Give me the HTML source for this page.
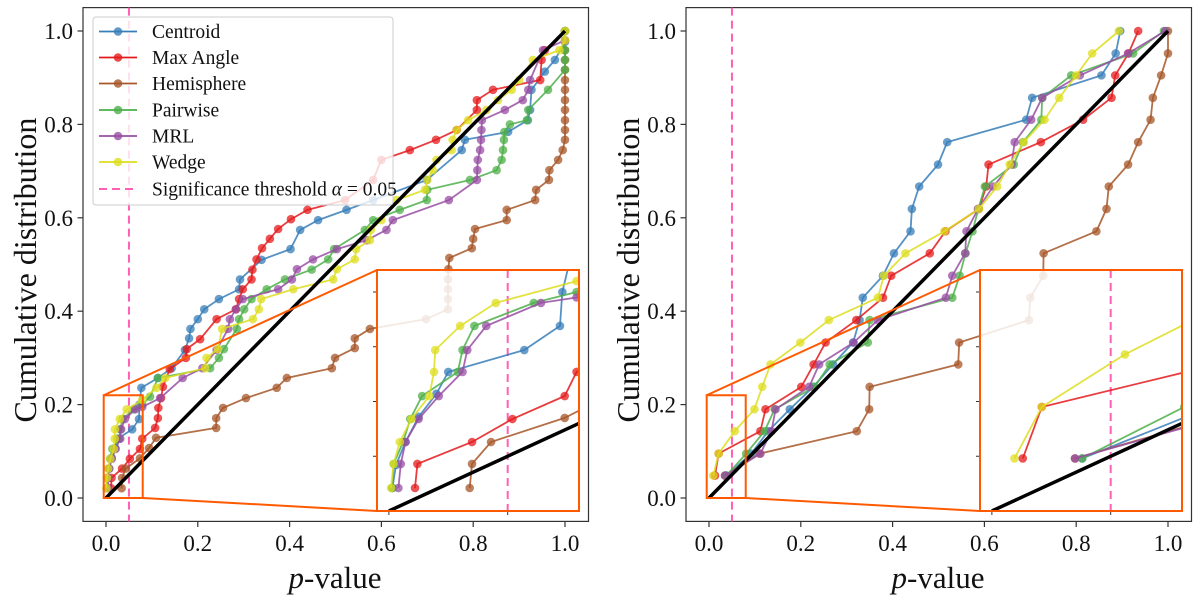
<!DOCTYPE html>
<html><head><meta charset="utf-8"><style>
body{margin:0;background:#fff;}
svg{display:block;}
svg text{font-family:"Liberation Serif","Times New Roman",serif;}
</style></head><body>
<svg id="chart" width="1200" height="596" viewBox="0 0 1200 596" xmlns="http://www.w3.org/2000/svg" font-family="Liberation Serif, serif"></svg>
<script>
// ---------- data ----------
const seriesNames = ["Centroid","Max Angle","Hemisphere","Pairwise","MRL","Wedge"];
const seriesColors = ["#377eb8","#e41a1c","#a65628","#4daf4a","#984ea3","#dddd1e"];
const xTicks = [0.0,0.2,0.4,0.6,0.8,1.0];
const yTicks = [0.0,0.2,0.4,0.6,0.8,1.0];
const xTickLabels = ["0.0","0.2","0.4","0.6","0.8","1.0"];
const yTickLabels = ["0.0","0.2","0.4","0.6","0.8","1.0"];
const alphaThreshold = 0.05;

// Left panel
const leftCentroidX = [0.0015,0.003,0.007,0.0125,0.02,0.025,0.057,0.072,0.073,0.077,0.113,0.143,0.172,0.181,0.184,0.2,0.214,0.246,0.29,0.292,0.339,0.402,0.423,0.462,0.524,0.582,0.699,0.775,0.782,0.876,0.919,0.924,0.927,0.956,0.978,1.0,1.0];
const leftCentroidY = [0.021,0.042,0.063,0.086,0.107,0.127,0.147,0.169,0.2,0.236,0.257,0.278,0.317,0.342,0.362,0.383,0.404,0.426,0.447,0.468,0.51,0.533,0.574,0.595,0.617,0.638,0.681,0.745,0.767,0.784,0.809,0.831,0.874,0.913,0.938,0.977,1.0];
const leftMaxAngleX = [0.011,0.012,0.035,0.052,0.074,0.079,0.107,0.113,0.114,0.12,0.124,0.139,0.174,0.176,0.205,0.241,0.283,0.29,0.298,0.317,0.319,0.328,0.34,0.357,0.375,0.403,0.439,0.521,0.582,0.6,0.662,0.719,0.764,0.808,0.808,0.843,0.946,0.949,0.956,1.0];
const leftMaxAngleY = [0.021,0.043,0.063,0.084,0.105,0.127,0.15,0.171,0.193,0.214,0.238,0.276,0.3,0.319,0.34,0.383,0.404,0.426,0.447,0.468,0.489,0.511,0.535,0.555,0.576,0.597,0.617,0.638,0.681,0.724,0.745,0.767,0.788,0.831,0.852,0.874,0.895,0.938,0.959,1.0];
const leftHemisphereX = [0.034,0.035,0.043,0.074,0.094,0.109,0.24,0.24,0.255,0.305,0.372,0.394,0.492,0.499,0.542,0.542,0.575,0.697,0.745,0.745,0.745,0.745,0.746,0.748,0.797,0.8,0.804,0.873,0.873,0.935,0.937,0.965,0.966,0.985,0.995,1.0,1.0,1.0,1.0,1.0,1.0,1.0,1.0,1.0,1.0,1.0,1.0];
const leftHemisphereY = [0.021,0.043,0.063,0.085,0.107,0.129,0.15,0.171,0.193,0.214,0.236,0.257,0.278,0.3,0.321,0.342,0.362,0.383,0.404,0.426,0.447,0.468,0.49,0.514,0.535,0.555,0.576,0.595,0.617,0.638,0.66,0.681,0.702,0.724,0.745,0.767,0.788,0.809,0.831,0.852,0.874,0.895,0.917,0.938,0.959,0.98,1.0];
const leftPairwiseX = [0.0015,0.002,0.006,0.009,0.014,0.029,0.031,0.036,0.061,0.079,0.096,0.113,0.227,0.246,0.257,0.285,0.29,0.301,0.317,0.35,0.39,0.448,0.484,0.497,0.564,0.582,0.64,0.699,0.7,0.793,0.851,0.862,0.865,0.867,0.868,0.88,0.917,0.92,0.963,1.0,1.0,1.0,1.0];
const leftPairwiseY = [0.021,0.043,0.063,0.084,0.105,0.127,0.147,0.169,0.19,0.2,0.217,0.257,0.278,0.3,0.319,0.362,0.383,0.404,0.426,0.447,0.468,0.489,0.511,0.533,0.574,0.595,0.617,0.638,0.66,0.681,0.702,0.724,0.745,0.767,0.784,0.8,0.809,0.831,0.874,0.917,0.938,0.959,1.0];
const leftMRLX = [0.004,0.005,0.007,0.0125,0.021,0.031,0.033,0.041,0.064,0.079,0.118,0.167,0.21,0.241,0.266,0.27,0.283,0.298,0.375,0.405,0.416,0.451,0.503,0.568,0.611,0.625,0.747,0.808,0.809,0.81,0.815,0.817,0.818,0.819,0.869,0.908,0.92,0.924,0.952,1.0];
const leftMRLY = [0.021,0.043,0.063,0.084,0.105,0.127,0.147,0.169,0.19,0.195,0.214,0.257,0.278,0.317,0.362,0.383,0.404,0.426,0.447,0.468,0.49,0.511,0.533,0.552,0.574,0.595,0.638,0.681,0.702,0.724,0.745,0.767,0.788,0.809,0.831,0.852,0.874,0.895,0.959,0.98];
const leftWedgeX = [0.0009,0.002,0.0046,0.0095,0.017,0.019,0.0195,0.03,0.045,0.079,0.11,0.129,0.216,0.219,0.244,0.253,0.32,0.333,0.338,0.408,0.495,0.503,0.542,0.545,0.575,0.577,0.6,0.633,0.695,0.7,0.712,0.72,0.753,0.755,0.764,0.789,0.829,0.854,0.884,0.9,0.93,0.988,1.0,1.0];
const leftWedgeY = [0.021,0.043,0.063,0.084,0.105,0.127,0.147,0.169,0.19,0.21,0.236,0.257,0.278,0.3,0.319,0.362,0.383,0.404,0.426,0.447,0.468,0.49,0.511,0.533,0.552,0.574,0.595,0.638,0.66,0.681,0.702,0.724,0.745,0.767,0.788,0.809,0.831,0.852,0.874,0.895,0.938,0.959,0.98,1.0];

// Right panel
const rightY = [0.048,0.095,0.143,0.190,0.238,0.286,0.333,0.381,0.429,0.476,0.524,0.571,0.619,0.667,0.714,0.762,0.810,0.857,0.905,0.952,1.0];
const rightCentroidX = [0.038,0.092,0.129,0.176,0.227,0.27,0.314,0.328,0.335,0.379,0.403,0.439,0.442,0.458,0.499,0.519,0.691,0.704,0.855,0.886,0.896];
const rightMaxAngleX = [0.013,0.021,0.112,0.123,0.201,0.228,0.254,0.321,0.379,0.397,0.481,0.515,0.588,0.604,0.609,0.723,0.815,0.877,0.885,0.914,0.935];
const rightHemisphereX = [0.035,0.11,0.322,0.349,0.35,0.543,0.545,0.697,0.7,0.728,0.729,0.844,0.866,0.871,0.913,0.935,0.962,0.967,0.985,1.0,1.0];
const rightPairwiseX = [0.038,0.081,0.121,0.143,0.23,0.263,0.346,0.35,0.53,0.546,0.559,0.574,0.587,0.601,0.664,0.684,0.724,0.726,0.789,0.924,0.991];
const rightMRLX = [0.035,0.112,0.136,0.145,0.218,0.24,0.315,0.368,0.516,0.53,0.558,0.561,0.586,0.619,0.659,0.666,0.702,0.726,0.808,0.913,0.994];
const rightWedgeX = [0.0095,0.021,0.056,0.099,0.116,0.134,0.199,0.261,0.368,0.381,0.428,0.513,0.588,0.628,0.655,0.686,0.731,0.763,0.8,0.835,0.893];

const leftSeries = [[leftCentroidX,leftCentroidY],[leftMaxAngleX,leftMaxAngleY],[leftHemisphereX,leftHemisphereY],[leftPairwiseX,leftPairwiseY],[leftMRLX,leftMRLY],[leftWedgeX,leftWedgeY]];
const rightSeries = [[rightCentroidX,rightY],[rightMaxAngleX,rightY],[rightHemisphereX,rightY],[rightPairwiseX,rightY],[rightMRLX,rightY],[rightWedgeX,rightY]];

// ---------- drawing ----------
const NS = "http://www.w3.org/2000/svg";
const svg = document.getElementById("chart");
const FONT = "Liberation Serif, serif";
function mk(tag, attrs, parent){
  const e = document.createElementNS(NS, tag);
  for (const k in attrs) e.setAttribute(k, attrs[k]);
  if (tag === "text") e.setAttribute("font-family", FONT);
  (parent||svg).appendChild(e);
  return e;
}
const Y0 = 498, SY = 467, SX = 459;
const INS_Y0 = 511, INS_SY = 1095, INS_SX = 2376, INS_XMIN = -0.005, INS_YMAX = 0.22;
const MR = 4.3;

function drawPanel(ox, frameX, series, key){
  const xs = v => ox + v*SX;
  const ys = v => Y0 - v*SY;
  const fr = mk("rect",{x:frameX,y:7.6,width:505.5,height:513.8,fill:"none",stroke:"#333","stroke-width":1.2});
  
  
  xTicks.forEach((t,i)=>{
    const tl = mk("line",{x1:xs(t),x2:xs(t),y1:521.4,y2:527,stroke:"#333","stroke-width":1.2});
    
    
    const tx = mk("text",{x:xs(t),y:551,"font-size":23,"text-anchor":"middle",fill:"#111"});
    tx.textContent = xTickLabels[i];
    
    
  });
  yTicks.forEach((t,i)=>{
    const tl = mk("line",{x1:frameX-5.5,x2:frameX,y1:ys(t),y2:ys(t),stroke:"#333","stroke-width":1.2});
    
    
    const tx = mk("text",{x:frameX-10,y:ys(t)+8,"font-size":23,"text-anchor":"end",fill:"#111"});
    tx.textContent = yTickLabels[i];
    
    
  });
  const xl = mk("text",{x:frameX+252,y:588,"font-size":31,"text-anchor":"middle",fill:"#111"});
  xl.innerHTML = '<tspan font-style="italic">p</tspan>-value';
  
  
  const yl = mk("text",{x:0,y:0,"font-size":32,"text-anchor":"middle",fill:"#111",transform:`translate(${frameX-47},270) rotate(-90)`});
  yl.textContent = "Cumulative distribution";
  
  

  const th = mk("line",{x1:xs(alphaThreshold),x2:xs(alphaThreshold),y1:7.6,y2:521.4,stroke:"#ff5fb4","stroke-width":2,"stroke-dasharray":"8,5"});
  
  

  drawSeries(series, xs, ys, key, null, MR);
  const diag = mk("line",{x1:xs(0),y1:ys(0),x2:xs(1),y2:ys(1),stroke:"#000","stroke-width":3.5});
  
  

  const insL = frameX + 294, insT = 270, insB = 511;
  const bx0 = xs(INS_XMIN), bx1 = xs(0.08), by0 = ys(INS_YMAX), by1 = ys(0);
  const zb = mk("rect",{x:bx0,y:by0,width:bx1-bx0,height:by1-by0,fill:"none",stroke:"#ff5a00","stroke-width":2});
  
  
  const c1 = mk("line",{x1:bx0,y1:by0,x2:insL,y2:insT,stroke:"#ff5a00","stroke-width":2});
  
  
  const c2 = mk("line",{x1:bx1,y1:by1,x2:insL,y2:insB,stroke:"#ff5a00","stroke-width":2});
  
  

  const ig = mk("g",{});
  
  
  const cp = mk("clipPath",{id:key+"clip"}, ig);
  mk("rect",{x:insL,y:insT,width:202,height:241}, cp);
  mk("rect",{x:insL,y:insT,width:202,height:241,fill:"#fff","fill-opacity":0.85}, ig);
  const ixs = v => insL + (v-INS_XMIN)*INS_SX;
  const iys = v => INS_Y0 - v*INS_SY;
  const inner = mk("g",{"clip-path":`url(#${key}clip)`}, ig);
  const ith = mk("line",{x1:ixs(alphaThreshold),x2:ixs(alphaThreshold),y1:insT,y2:insB,stroke:"#ff5fb4","stroke-width":2,"stroke-dasharray":"8,5"}, inner);
  
  
  drawSeries(series, ixs, iys, key+'-inset', inner, MR);
  const idiag = mk("line",{x1:ixs(0),y1:iys(0),x2:ixs(0.2),y2:iys(0.2),stroke:"#000","stroke-width":3.5}, inner);
  
  
  [0.05,0.1,0.15,0.2].forEach(t=>{
    const it = mk("line",{x1:insL-4,x2:insL,y1:iys(t),y2:iys(t),stroke:"#333","stroke-width":1}, ig);
    
    
  });
  [0,0.05].forEach(t=>{
    const it = mk("line",{x1:ixs(t),x2:ixs(t),y1:insB,y2:insB+4,stroke:"#333","stroke-width":1}, ig);
    
    
  });
  const ifr = mk("rect",{x:insL,y:insT,width:202,height:241,fill:"none",stroke:"#ff5a00","stroke-width":2}, ig);
  
  
}

function drawSeries(series, xs, ys, key, parent, r){
  series.forEach((s,i)=>{
    const g = mk("g",{}, parent||svg);
    
    
    const pts = s[0].map((x,j)=>xs(x).toFixed(1)+","+ys(s[1][j]).toFixed(1)).join(" ");
    const pl = mk("polyline",{points:pts,fill:"none",stroke:seriesColors[i],"stroke-width":1.8,"stroke-opacity":0.85}, g);
    
    
    s[0].forEach((x,j)=>{
      const c = mk("circle",{cx:xs(x),cy:ys(s[1][j]),r:r,fill:seriesColors[i],"fill-opacity":0.75}, g);
      
      
    });
  });
}

function drawLegend(){
  const lg = mk("g",{});
  
  
  mk("rect",{x:93,y:17,width:300,height:188,rx:3,fill:"#fff","fill-opacity":0.8,stroke:"#ccc","stroke-width":1}, lg);
  const rows = [31.5,57.5,83.5,110,136,162];
  seriesNames.forEach((n,i)=>{
    const e = mk("g",{}, lg);
    
    
    mk("line",{x1:99,x2:137,y1:rows[i],y2:rows[i],stroke:seriesColors[i],"stroke-width":1.8}, e);
    mk("circle",{cx:118,cy:rows[i],r:MR,fill:seriesColors[i],"fill-opacity":0.8}, e);
    const t = mk("text",{x:152,y:rows[i]+6.5,"font-size":19.5,fill:"#111"}, e);
    t.textContent = n;
  });
  const e = mk("g",{}, lg);
  
  
  mk("line",{x1:99,x2:137,y1:189,y2:189,stroke:"#ff5fb4","stroke-width":2,"stroke-dasharray":"8,5"}, e);
  const t = mk("text",{x:152,y:195.5,"font-size":19.5,fill:"#111"}, e);
  t.innerHTML = 'Significance threshold <tspan font-style="italic">α</tspan> = 0.05';
}

drawPanel(106, 83, leftSeries, "left");
drawPanel(709, 686, rightSeries, "right");
drawLegend();
</script>
</body></html>
